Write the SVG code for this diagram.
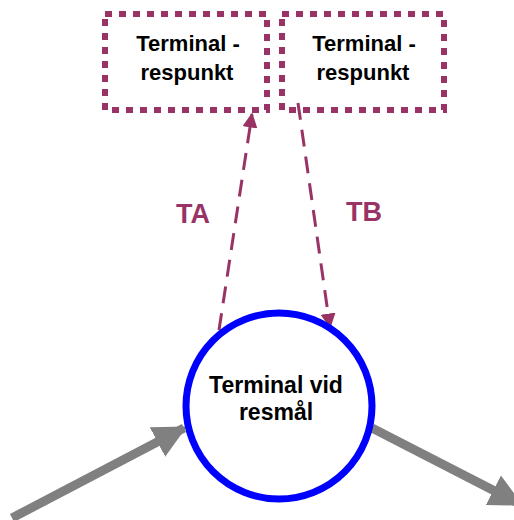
<svg xmlns="http://www.w3.org/2000/svg" width="514" height="520" viewBox="0 0 514 520">
<style>
.box{fill:none;stroke:#993366;stroke-width:6;stroke-dasharray:7 7}
.t{font-family:"Liberation Sans",Arial,sans-serif;font-weight:bold;font-size:22px;fill:#000;text-anchor:middle}
.lbl{font-family:"Liberation Sans",Arial,sans-serif;font-weight:bold;font-size:27px;fill:#993366;text-anchor:middle}
.dash{fill:none;stroke:#993366;stroke-width:3;stroke-dasharray:17 10}
.big{fill:none;stroke:#808080;stroke-width:9}
</style>
<defs>
<marker id="pa" viewBox="0 0 10 10" refX="9" refY="5" markerWidth="5" markerHeight="5" markerUnits="strokeWidth" orient="auto">
<path d="M0,0 L10,5 L0,10 z" fill="#993366"/>
</marker>
<marker id="ga" viewBox="0 0 10 10" refX="9" refY="5" markerWidth="3.7" markerHeight="3.8" markerUnits="strokeWidth" orient="auto">
<path d="M0,0 L10,5 L0,10 z" fill="#808080"/>
</marker>
</defs>
<g id="connectors">
<line class="dash" x1="219" y1="330" x2="252" y2="114" marker-end="url(#pa)"/>
<line class="dash" x1="298" y1="103" x2="330" y2="327" marker-end="url(#pa)"/>
<line class="big" x1="12" y1="518" x2="184" y2="428" marker-end="url(#ga)"/>
<line class="big" x1="372" y1="428" x2="520" y2="504" marker-end="url(#ga)"/>
<text class="lbl" x="193" y="223">TA</text>
<text class="lbl" x="364" y="221">TB</text>
</g>
<g id="box1">
<rect class="box" x="105" y="14" width="162" height="96"/>
<text class="t" x="188" y="51">Terminal -</text>
<text class="t" x="187" y="80">respunkt</text>
</g>
<g id="box2">
<rect class="box" x="282" y="14" width="162" height="96"/>
<text class="t" x="364" y="51">Terminal -</text>
<text class="t" x="363" y="80">respunkt</text>
</g>
<g id="dest">
<circle cx="279" cy="406" r="93" fill="#fff" stroke="#0000ff" stroke-width="7"/>
<text class="t" x="276" y="393" style="font-size:23px">Terminal vid</text>
<text class="t" x="276" y="420" style="font-size:23px">resmål</text>
</g>
</svg>
